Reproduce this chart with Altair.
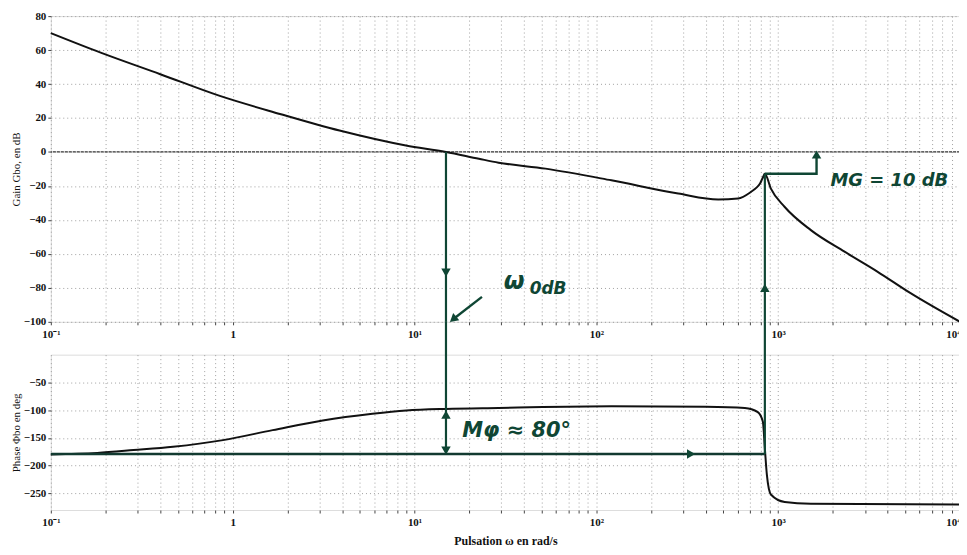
import altair as alt
import pandas as pd

# ---------------- data ----------------
GAIN_W = [0.1, 0.188, 0.40, 0.85, 1.82, 3.87, 8.97, 14.9, 22.6, 29, 52.5, 121,
          282, 468, 602, 709, 760, 795, 820, 845, 912, 1087, 1513, 2317, 3510,
          5320, 10000]
GAIN_DB = [70, 58.5, 45.8, 33, 22.4, 12.6, 3.8, 0, -4.0, -6.3, -9.8, -16.7,
           -24.5, -28, -27.4, -23.5, -21, -18.6, -15.5, -12.8, -21.6, -32.4,
           -46, -58.7, -70.4, -83, -100]

PHASE_W = [0.1, 0.18, 0.285, 0.47, 0.885, 1.66, 3.13, 5.87, 9.0, 14.9, 29, 121,
           400, 656, 773, 824, 845, 867, 912, 1087, 1513, 10000]
PHASE_DEG = [-180, -177, -172, -166, -154, -136, -118.5, -106.6, -100.7, -97.7,
             -96, -93, -94, -96, -103.6, -121, -169, -216.7, -252, -265.5,
             -268.5, -270]

X_TICKS = [0.1, 1, 10, 100, 1000, 10000]
X_LABELS = ["10⁻¹", "1", "10¹", "10²", "10³", "10⁴"]
GAIN_TICKS = [80, 60, 40, 20, 0, -20, -40, -60, -80, -100]
PHASE_TICKS = [-50, -100, -150, -200, -250]

# hand-drawn annotation values
W_CROSS = 14.9        # ω0dB
W_PEAK = 845          # phase crossover / gain peak
PEAK_DB = -12.8
HAND_180 = -179
W_MG_STEP = 1626

INK = "#0f4634"
SERIF = "Liberation Serif"
HAND = "DejaVu Sans"

# ---------------- scales / axes ----------------
grid_x = [k * 10.0 ** d for d in range(-1, 4) for k in range(1, 10)] + [10000.0]
label_expr = ""
for v, lab in zip(X_TICKS, X_LABELS):
    label_expr += f"abs(datum.value - {v}) < {v}*1e-6 ? '{lab}' : "
label_expr += "''"

xscale = alt.Scale(type="log", domain=[0.1, 10000], nice=False)


def x_axis(title=None):
    kw = dict(values=grid_x, labelExpr=label_expr, grid=True, gridDash=[1, 3],
              gridColor="#888", gridOpacity=0.8, tickSize=3, tickColor="#444",
              labelFont=SERIF, labelFontSize=11, labelFontWeight="bold",
              labelColor="#111", labelPadding=4, domain=False,
              labelAlign=alt.ExprRef("datum.value >= 9999 ? 'right' : 'center'"))
    if title:
        return alt.Axis(title=title, titleFont=SERIF, titleFontSize=12,
                        titleFontWeight="bold", titleColor="#111",
                        titlePadding=8, **kw)
    return alt.Axis(title=None, **kw)


def y_axis(title, values):
    return alt.Axis(title=title, values=values, grid=True, gridDash=[1, 3],
                    gridColor="#888", gridOpacity=0.8, tickSize=3,
                    tickColor="#444", labelFont=SERIF, labelFontSize=11,
                    labelFontWeight="bold", labelColor="#111", labelPadding=2,
                    titleFont=SERIF, titleFontSize=11, titleFontWeight="normal",
                    titleColor="#111", titlePadding=0, domain=False,
                    minExtent=29, maxExtent=29)


XT = alt.X("w:Q", scale=xscale, axis=x_axis())
XB = alt.X("w:Q", scale=xscale, axis=x_axis("Pulsation ω en rad/s"))
YT = alt.Y("v:Q", scale=alt.Scale(domain=[-100, 80], nice=False),
           axis=y_axis("Gain Gbo, en dB", GAIN_TICKS))
YB = alt.Y("v:Q", scale=alt.Scale(domain=[-280, 0], nice=False),
           axis=y_axis("Phase Φbo en deg", PHASE_TICKS))

W, HT, HB = 913, 307, 156

# ---------------- top panel: gain ----------------
gain_df = pd.DataFrame({"w": GAIN_W, "v": GAIN_DB})
zero = alt.Chart(pd.DataFrame({"v": [0]})).mark_rule(
    color="#333", strokeWidth=1.3, strokeDash=[3, 1]).encode(y=YT)
gain_line = alt.Chart(gain_df).mark_line(
    color="#111", strokeWidth=2, interpolate="monotone").encode(x=XT, y=YT)

vert_top = alt.Chart(pd.DataFrame({
    "w": [W_CROSS, W_PEAK], "v": [0, PEAK_DB], "v2": [-100, -100]})
).mark_rule(color=INK, strokeWidth=2.2).encode(x=XT, y=YT, y2="v2:Q")

mg_path = alt.Chart(pd.DataFrame({
    "w": [W_PEAK, W_MG_STEP, W_MG_STEP], "v": [PEAK_DB, PEAK_DB, -2],
    "o": [0, 1, 2]})).mark_line(color=INK, strokeWidth=2.4).encode(
    x=XT, y=YT, order="o:Q")

ptr = alt.Chart(pd.DataFrame({"w": [23.5, 16.3], "v": [-85.3, -98.5],
                              "o": [0, 1]})).mark_line(
    color=INK, strokeWidth=2.4).encode(x=XT, y=YT, order="o:Q")

heads_top = alt.Chart(pd.DataFrame({
    "w": [W_CROSS, W_PEAK, W_MG_STEP, 16.3],
    "v": [-71, -80, -1.5, -98.5],
    "a": [180, 0, 0, 230]})).mark_point(
    shape="triangle-up", filled=True, color=INK, size=90, opacity=1).encode(
    x=XT, y=YT, angle=alt.Angle("a:Q", scale=None))

txt_top = alt.Chart(pd.DataFrame({
    "w": [1941, 31, 43], "v": [-17.3, -76.5, -80.5],
    "t": ["MG = 10 dB", "ω", "0dB"], "s": [18, 24, 17]})).mark_text(
    color=INK, font=HAND, fontWeight="bold", fontStyle="italic",
    align="left", baseline="middle").encode(
    x=XT, y=YT, text="t:N", size=alt.Size("s:Q", scale=None))

top = alt.layer(zero, gain_line, vert_top, mg_path, ptr, heads_top, txt_top
                ).properties(width=W, height=HT)

# ---------------- bottom panel: phase ----------------
phase_df = pd.DataFrame({"w": PHASE_W, "v": PHASE_DEG})
phase_line = alt.Chart(phase_df).mark_line(
    color="#111", strokeWidth=2, interpolate="monotone").encode(x=XB, y=YB)

hand180 = alt.Chart(pd.DataFrame({"w": [0.1, W_PEAK], "v": [HAND_180, HAND_180],
                                  "o": [0, 1]})).mark_line(
    color="#123a30", strokeWidth=2.4).encode(x=XB, y=YB, order="o:Q")

vert_bot = alt.Chart(pd.DataFrame({
    "w": [W_CROSS, W_PEAK], "v": [-176, HAND_180], "v2": [60, 60]})
).mark_rule(color=INK, strokeWidth=2.2).encode(x=XB, y=YB, y2="v2:Q")

heads_bot = alt.Chart(pd.DataFrame({
    "w": [W_CROSS, W_CROSS, 332],
    "v": [-108, -173, HAND_180],
    "a": [0, 180, 90]})).mark_point(
    shape="triangle-up", filled=True, color=INK, size=90, opacity=1).encode(
    x=XB, y=YB, angle=alt.Angle("a:Q", scale=None))

txt_bot = alt.Chart(pd.DataFrame({
    "w": [18.3], "v": [-137.4], "t": ["Mφ ≈ 80°"]})).mark_text(
    color=INK, font=HAND, fontWeight="bold", fontStyle="italic",
    align="left", baseline="middle", fontSize=21).encode(x=XB, y=YB, text="t:N")

bottom = alt.layer(phase_line, hand180, vert_bot, heads_bot, txt_bot
                   ).properties(width=W, height=HB)

chart = alt.vconcat(top, bottom, spacing=33, bounds="flush").properties(
    padding={"left": 2, "top": 0, "right": -6, "bottom": 0}
).configure_view(stroke="#222", strokeWidth=1.2).configure(background="white")

chart.save("out.html", embed_options={"renderer": "svg", "actions": False})
